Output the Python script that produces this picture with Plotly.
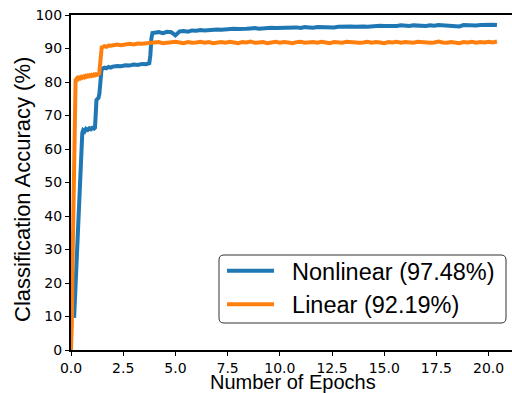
import plotly.graph_objects as go

# ---------------- data ----------------
nl_early_epochs = [0.15, 0.22, 0.3, 0.36, 0.41, 0.44, 0.47, 0.5, 0.54, 0.58,
                   0.65, 0.72, 0.8, 0.88, 0.95, 1.02, 1.1, 1.15, 1.18, 1.22,
                   1.27, 1.32, 1.36, 1.41, 1.46, 1.52, 1.6, 1.7, 1.8, 1.9,
                   2.0, 2.2, 2.4, 2.6, 2.8, 3.0, 3.2, 3.4, 3.6, 3.75,
                   3.8, 3.85, 3.9]
nl_early_acc = [9.6, 20, 30, 42, 48, 55, 61, 64, 64.8, 65.6,
                65.2, 66.0, 65.7, 66.2, 65.9, 66.3, 66.1, 66.4, 71, 74.6,
                75.0, 75.3, 76.5, 80.5, 83.6, 84.0, 84.3, 84.1, 84.5, 84.3,
                84.6, 84.8, 84.7, 85.0, 84.9, 85.2, 85.1, 85.4, 85.3, 85.6,
                88, 93, 94.6]

lin_early_epochs = [0.0, 0.04, 0.08, 0.12, 0.16, 0.19, 0.22, 0.26, 0.3, 0.35,
                    0.4, 0.45, 0.5, 0.55, 0.6, 0.65, 0.7, 0.75, 0.8, 0.85,
                    0.9, 0.95, 1.0, 1.05, 1.1, 1.15, 1.2, 1.25, 1.3, 1.35,
                    1.39, 1.43, 1.47, 1.52, 1.6, 1.7, 1.8, 1.9, 2.0, 2.2,
                    2.4, 2.6, 2.8, 3.0, 3.2, 3.4, 3.6, 3.8]
lin_early_acc = [0, 8, 28, 50, 68, 79.5, 80.6, 80.9, 81.2, 80.9,
                 81.3, 81.1, 81.5, 81.3, 81.6, 81.4, 81.8, 81.6, 81.9, 81.7,
                 82.0, 81.8, 82.1, 81.9, 82.2, 82.0, 82.3, 82.1, 82.4, 82.5,
                 85, 89.5, 90.3, 90.4, 90.7, 90.5, 90.9, 90.8, 91.0, 91.2,
                 91.0, 91.3, 91.4, 91.2, 91.5, 91.4, 91.6, 91.5]

# later epochs: 4.0 .. 20.4 every 0.2 epoch
nl_late_acc = [94.7, 94.9, 94.6, 95.0, 94.9, 93.9, 95.1, 95.2, 95.0, 95.4,
               95.3, 95.5, 95.4, 95.6, 95.5, 95.7, 95.6, 95.8, 95.7, 95.9,
               95.8, 96.0, 95.9, 96.0, 96.1, 95.9, 96.1, 96.0, 96.2, 96.1,
               96.2, 96.0, 96.3, 96.2, 96.3, 96.1, 96.4, 96.3, 96.2, 96.4,
               96.3, 96.5, 96.4, 96.3, 96.5, 96.6, 96.4, 96.6, 96.5, 96.7,
               96.6, 96.5, 96.7, 96.6, 96.8, 96.7, 96.6, 96.8, 96.7, 96.9,
               96.8, 96.7, 96.9, 96.8, 96.9, 96.7, 96.9, 96.8, 97.0, 96.9,
               96.8, 97.0, 96.9, 96.6, 97.0, 96.9, 97.1, 96.9, 97.0, 97.1,
               96.9, 97.1, 97.0]
lin_late_acc = [91.7, 91.9, 91.6, 91.8, 91.7, 92.0, 91.8, 91.6, 91.9, 91.7,
                91.8, 92.0, 91.7, 91.9, 91.6, 91.8, 91.9, 91.7, 92.0, 91.8,
                91.6, 91.9, 91.8, 92.1, 91.7, 91.8, 91.9, 91.6, 91.8, 92.0,
                91.7, 91.9, 91.8, 91.6, 91.9, 92.0, 91.7, 91.8, 91.9, 91.7,
                92.0, 91.8, 91.6, 91.9, 91.8, 91.7, 92.0, 91.8, 91.9, 91.7,
                91.8, 92.0, 91.7, 91.9, 91.8, 91.6, 91.9, 91.8, 92.0, 91.7,
                91.9, 91.8, 91.7, 92.0, 91.8, 91.9, 91.7, 91.8, 92.1, 91.8,
                91.7, 91.9, 91.8, 91.6, 91.9, 91.8, 92.0, 91.7, 91.9, 91.8,
                92.0, 91.8, 92.1]

series_names = ["Nonlinear (97.48%)", "Linear (92.19%)"]
series_colors = ["#1f77b4", "#ff7f0e"]

x_tick_vals = [0, 2.5, 5, 7.5, 10, 12.5, 15, 17.5, 20]
x_tick_text = ["0.0", "2.5", "5.0", "7.5", "10.0", "12.5", "15.0", "17.5", "20.0"]
y_tick_vals = [0, 10, 20, 30, 40, 50, 60, 70, 80, 90, 100]

late_epochs_nl = [round(4.0 + 0.2 * i, 1) for i in range(len(nl_late_acc))]
late_epochs_lin = [round(4.0 + 0.2 * i, 1) for i in range(len(lin_late_acc))]

nl_x = nl_early_epochs + late_epochs_nl
nl_y = nl_early_acc + nl_late_acc
lin_x = lin_early_epochs + late_epochs_lin
lin_y = lin_early_acc + lin_late_acc

# ---------------- layout geometry (pixels) ----------------
W, H = 512, 393
ML, MR, MT, MB = 71, 0, 15, 43
PW, PH = W - ML - MR, H - MT - MB


def px_x(p):
    return (p - ML) / PW


def px_y(p):
    return (H - MB - p) / PH


# ---------------- figure ----------------
fig = go.Figure()
fig.add_trace(go.Scatter(x=nl_x, y=nl_y, mode="lines", name="\u00a0\u00a0" + series_names[0],
                         line=dict(color=series_colors[0], width=4)))
fig.add_trace(go.Scatter(x=lin_x, y=lin_y, mode="lines", name="\u00a0\u00a0" + series_names[1],
                         line=dict(color=series_colors[1], width=4)))

tick_font = dict(family="DejaVu Sans", size=14, color="black")

# rounded legend frame
bx0, bx1, by0, by1 = px_x(219), px_x(506), px_y(323), px_y(255)
rx, ry = 5 / PW, 5 / PH
frame_path = (f"M{bx0+rx},{by1} L{bx1-rx},{by1} Q{bx1},{by1} {bx1},{by1-ry} "
              f"L{bx1},{by0+ry} Q{bx1},{by0} {bx1-rx},{by0} L{bx0+rx},{by0} "
              f"Q{bx0},{by0} {bx0},{by0+ry} L{bx0},{by1-ry} Q{bx0},{by1} {bx0+rx},{by1} Z")

fig.update_layout(
    width=W, height=H,
    margin=dict(l=ML, r=MR, t=MT, b=MB),
    paper_bgcolor="white", plot_bgcolor="white",
    showlegend=True,
    legend=dict(
        x=px_x(222), y=px_y(249), xanchor="left", yanchor="top",
        font=dict(family="Liberation Sans", size=23.5, color="black"),
        borderwidth=0, bgcolor="rgba(0,0,0,0)",
        itemwidth=47, tracegroupgap=0,
    ),
    shapes=[dict(type="path", path=frame_path, xref="paper", yref="paper",
                 line=dict(color="#333333", width=1), fillcolor="white", layer="above")],
    xaxis=dict(
        range=[0, 21.12], tickvals=x_tick_vals, ticktext=x_tick_text,
        ticks="outside", ticklen=4, tickwidth=1, tickcolor="black",
        showline=True, linecolor="black", linewidth=2, mirror=True,
        showgrid=False, zeroline=False, tickfont=tick_font, automargin=False,
    ),
    yaxis=dict(
        range=[0, 100], tickvals=y_tick_vals,
        ticks="outside", ticklen=4, tickwidth=1, tickcolor="black",
        showline=True, linecolor="black", linewidth=2,
        showgrid=False, zeroline=False, tickfont=tick_font, automargin=False,
    ),
    annotations=[
        dict(text="Number of Epochs", xref="paper", yref="paper",
             x=px_x(293), y=px_y(382), xanchor="center", yanchor="middle",
             showarrow=False, font=dict(family="Liberation Sans", size=20, color="black")),
        dict(text="Classification Accuracy (%)", xref="paper", yref="paper",
             x=px_x(23), y=px_y(190), xanchor="center", yanchor="middle",
             textangle=-90, showarrow=False,
             font=dict(family="Liberation Sans", size=22, color="black")),
    ],
)

fig.write_html("out.html", config={"displayModeBar": False},
               post_script="document.body.style.margin='0';document.body.style.overflow='hidden';")
